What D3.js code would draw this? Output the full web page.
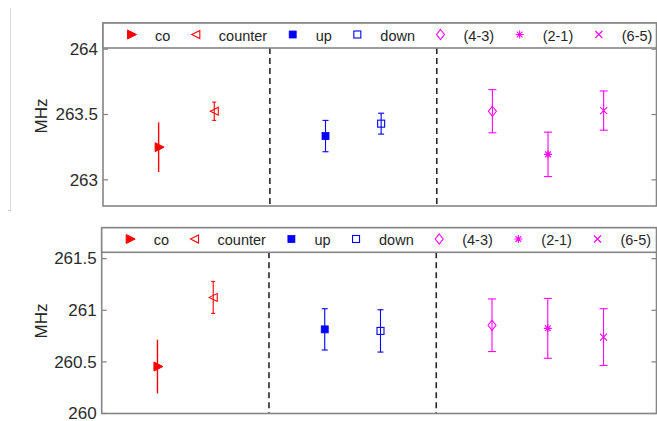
<!DOCTYPE html>
<html>
<head>
<meta charset="utf-8">
<script src="https://cdn.jsdelivr.net/npm/d3@7"></script>
<style>
  html, body { margin: 0; padding: 0; background: #fff; }
  svg { display: block; font-family: "Liberation Sans", Arial, Helvetica, sans-serif; }
</style>
</head>
<body>
<svg id="chart" width="657" height="421"></svg>
<script>
// Series labels shown in the legend, in plotting order
const seriesNames = ["co", "counter", "up", "down", "(4-3)", "(2-1)", "(6-5)"];
// x position of each series along the axis (gaps at 3 and 6 hold the separators)
const seriesX = [1, 2, 4, 5, 7, 8, 9];
const separatorsX = [3, 6];
const seriesColors = ["#ff0000", "#ff0000", "#0000ff", "#0000ff", "#ff00ff", "#ff00ff", "#ff00ff"];
const seriesMarkers = ["triRightFilled", "triLeftOpen", "squareFilled", "squareOpen", "diamond", "asterisk", "cross"];

// Upper panel: frequency (MHz) and its uncertainty
const upperValues = [263.25, 263.525, 263.335, 263.43, 263.525, 263.195, 263.53];
const upperErrors = [0.19, 0.07, 0.12, 0.08, 0.165, 0.17, 0.15];
const upperTicks = [263, 263.5, 264];
const upperTickLabels = ["263", "263.5", "264"];

// Lower panel
const lowerValues = [260.455, 261.125, 260.815, 260.8, 260.855, 260.825, 260.74];
const lowerErrors = [0.26, 0.155, 0.2, 0.205, 0.255, 0.29, 0.275];
const lowerTicks = [260, 260.5, 261, 261.5];
const lowerTickLabels = ["260", "260.5", "261", "261.5"];

const capWidths = [0, 4, 6, 6, 8, 8, 8];

const svg = d3.select("#chart");

// faint vertical rule at the far left
svg.append("line").attr("x1", 10.5).attr("x2", 10.5).attr("y1", 8).attr("y2", 210)
  .attr("stroke", "#dcdcdc").attr("stroke-width", 1);
svg.append("line").attr("x1", 8).attr("x2", 11).attr("y1", 210.5).attr("y2", 210.5)
  .attr("stroke", "#c8c8c8").attr("stroke-width", 1);

function drawMarker(g, type, color, cx, cy) {
  if (type === "triRightFilled") {
    const s = 4.5;
    g.append("path").attr("d", `M${cx - s},${cy - s}L${cx + s},${cy}L${cx - s},${cy + s}Z`)
      .attr("fill", color).attr("stroke", color).attr("stroke-width", 1);
  } else if (type === "triLeftOpen") {
    const s = 4;
    g.append("path").attr("d", `M${cx + s},${cy - s}L${cx - s},${cy}L${cx + s},${cy + s}Z`)
      .attr("fill", "none").attr("stroke", color).attr("stroke-width", 1.1);
  } else if (type === "squareFilled") {
    g.append("rect").attr("x", cx - 3.5).attr("y", cy - 3.5).attr("width", 7).attr("height", 7)
      .attr("fill", color).attr("stroke", color).attr("stroke-width", 0.8);
  } else if (type === "squareOpen") {
    g.append("rect").attr("x", cx - 3.5).attr("y", cy - 3.5).attr("width", 7).attr("height", 7)
      .attr("fill", "none").attr("stroke", color).attr("stroke-width", 1.1);
  } else if (type === "diamond") {
    g.append("path").attr("d", `M${cx},${cy - 5}L${cx + 4},${cy}L${cx},${cy + 5}L${cx - 4},${cy}Z`)
      .attr("fill", "none").attr("stroke", color).attr("stroke-width", 1.1);
  } else if (type === "asterisk") {
    const r = 4;
    const d = [
      `M${cx - r},${cy}L${cx + r},${cy}`,
      `M${cx},${cy - r}L${cx},${cy + r}`,
      `M${cx - r * 0.72},${cy - r * 0.72}L${cx + r * 0.72},${cy + r * 0.72}`,
      `M${cx - r * 0.72},${cy + r * 0.72}L${cx + r * 0.72},${cy - r * 0.72}`
    ].join("");
    g.append("path").attr("d", d).attr("fill", "none").attr("stroke", color).attr("stroke-width", 1.1);
  } else if (type === "cross") {
    const r = 3.5;
    g.append("path").attr("d", `M${cx - r},${cy - r}L${cx + r},${cy + r}M${cx - r},${cy + r}L${cx + r},${cy - r}`)
      .attr("fill", "none").attr("stroke", color).attr("stroke-width", 1.1);
  }
}

function drawPanel(cfg) {
  const { left, right, top, bottom, legendH, yDomain, values, errors, ticks, tickLabels, labelY } = cfg;
  const g = svg.append("g");
  const x = d3.scaleLinear().domain([0, 9.95]).range([left, right]);
  const y = d3.scaleLinear().domain(yDomain).range([bottom, top]);
  const legendBottom = top + legendH;

  // separators
  g.selectAll("line.sep").data(separatorsX).join("line")
    .attr("x1", d => x(d)).attr("x2", d => x(d))
    .attr("y1", legendBottom).attr("y2", bottom)
    .attr("stroke", "#262626").attr("stroke-width", 1.6).attr("stroke-dasharray", "6,4");

  // y axis ticks (inside on both sides) and labels
  const tickG = g.append("g");
  ticks.forEach((t, i) => {
    const ty = y(t);
    if (ty >= legendBottom - 1) {
      tickG.append("line").attr("x1", left).attr("x2", left + 5).attr("y1", ty).attr("y2", ty)
        .attr("stroke", "#808080").attr("stroke-width", 1.2);
      tickG.append("line").attr("x1", right - 5).attr("x2", right).attr("y1", ty).attr("y2", ty)
        .attr("stroke", "#808080").attr("stroke-width", 1.2);
    }
    tickG.append("text").attr("x", left - 5).attr("y", ty).attr("dy", "0.34em")
      .attr("text-anchor", "end").attr("font-size", 17).attr("fill", "#2b2b2b").text(tickLabels[i]);
  });

  // y axis title
  g.append("text").attr("transform", `translate(47,${labelY}) rotate(-90)`)
    .attr("text-anchor", "middle").attr("font-size", 17).attr("fill", "#262626").text("MHz");

  // error bars and markers
  seriesNames.forEach((name, i) => {
    const cx = x(seriesX[i]);
    const yHi = y(values[i] + errors[i]);
    const yLo = y(values[i] - errors[i]);
    const c = seriesColors[i];
    const sw = i === 0 ? 1.4 : 1.1;
    g.append("line").attr("x1", cx).attr("x2", cx).attr("y1", yHi).attr("y2", yLo)
      .attr("stroke", c).attr("stroke-width", sw);
    const cw = capWidths[i] / 2;
    if (cw > 0) {
      g.append("line").attr("x1", cx - cw).attr("x2", cx + cw).attr("y1", yHi).attr("y2", yHi)
        .attr("stroke", c).attr("stroke-width", 1.1);
      g.append("line").attr("x1", cx - cw).attr("x2", cx + cw).attr("y1", yLo).attr("y2", yLo)
        .attr("stroke", c).attr("stroke-width", 1.1);
    }
    drawMarker(g, seriesMarkers[i], c, cx + (i === 0 ? 1 : 0), y(values[i]));
  });

  // axes box
  g.append("rect").attr("x", left).attr("y", top).attr("width", right - left).attr("height", bottom - top)
    .attr("fill", "none").attr("stroke", "#858585").attr("stroke-width", 1.6);
  // legend box across the top
  g.append("rect").attr("x", left).attr("y", top).attr("width", right - left).attr("height", legendH)
    .attr("fill", "#fff").attr("stroke", "#858585").attr("stroke-width", 1.6);

  // legend entries laid out from measured text widths
  const ly = top + legendH / 2;
  let cursor = left + 29;
  seriesNames.forEach((name, i) => {
    drawMarker(g, seriesMarkers[i], seriesColors[i], cursor, ly - 1);
    const t = g.append("text").attr("x", cursor + 23).attr("y", ly).attr("dy", "0.36em")
      .attr("font-size", 14.5).attr("fill", "#262626").text(name);
    const w = t.node().getComputedTextLength();
    cursor = cursor + 23 + w + 25.5;
  });
}

drawPanel({
  left: 103, right: 656.5, top: 23, bottom: 206, legendH: 25,
  yDomain: [262.8, 264.2], values: upperValues, errors: upperErrors,
  ticks: upperTicks, tickLabels: upperTickLabels, labelY: 116
});

drawPanel({
  left: 101.7, right: 656.5, top: 227.7, bottom: 413.5, legendH: 24.6,
  yDomain: [260, 261.8], values: lowerValues, errors: lowerErrors,
  ticks: lowerTicks, tickLabels: lowerTickLabels, labelY: 321
});
</script>
</body>
</html>
